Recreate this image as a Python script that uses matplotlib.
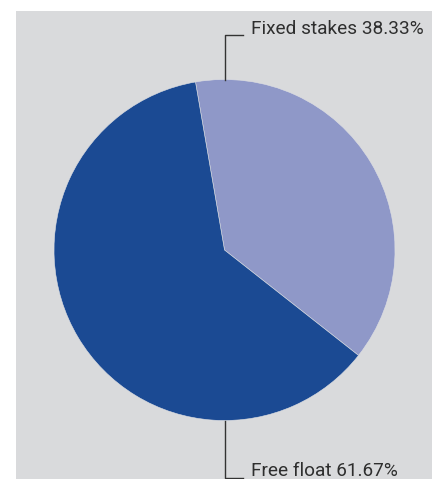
import matplotlib
matplotlib.use("Agg")
import matplotlib.pyplot as plt
from matplotlib.patches import Rectangle

labels = ["Fixed stakes", "Free float"]
values = [38.33, 61.67]
colors = ["#8f98c8", "#1b4a93"]

W, H = 438, 479
fig = plt.figure(figsize=(W / 100, H / 100), dpi=100)
fig.patch.set_facecolor("white")
ax = fig.add_axes([0, 0, 1, 1])
ax.set_axis_off()

ax.add_patch(Rectangle((16, 0), 416, H - 11, facecolor="#d9dadc", edgecolor="none", zorder=0))

cx, cy, r = 224.5, H - 250, 170.5
ax.pie(values, colors=colors, startangle=99.8, counterclock=False, center=(cx, cy), radius=r,
       wedgeprops=dict(edgecolor="#dfe0e4", linewidth=0.4), frame=False)

ax.set_xlim(0, W)
ax.set_ylim(0, H)
ax.set_aspect("equal")

line_kw = dict(color="#333333", linewidth=1.0, zorder=3)
fs = 13.7
# top leader
ty = H - 35
ax.plot([cx, cx, 243], [cy + r, ty, ty], **line_kw)
ax.text(251, ty + 1, f"{labels[0]} {values[0]:.2f}%", fontsize=fs, family="Roboto",
        color="#2e2e2e", va="baseline", ha="left")
# bottom leader
by = H - 478
ax.plot([cx, cx, 243], [cy - r, by, by], **line_kw)
ax.text(251, by + 2, f"{labels[1]} {values[1]:.2f}%", fontsize=fs, family="Roboto",
        color="#2e2e2e", va="baseline", ha="left")

fig.savefig("out.png", dpi=100)
